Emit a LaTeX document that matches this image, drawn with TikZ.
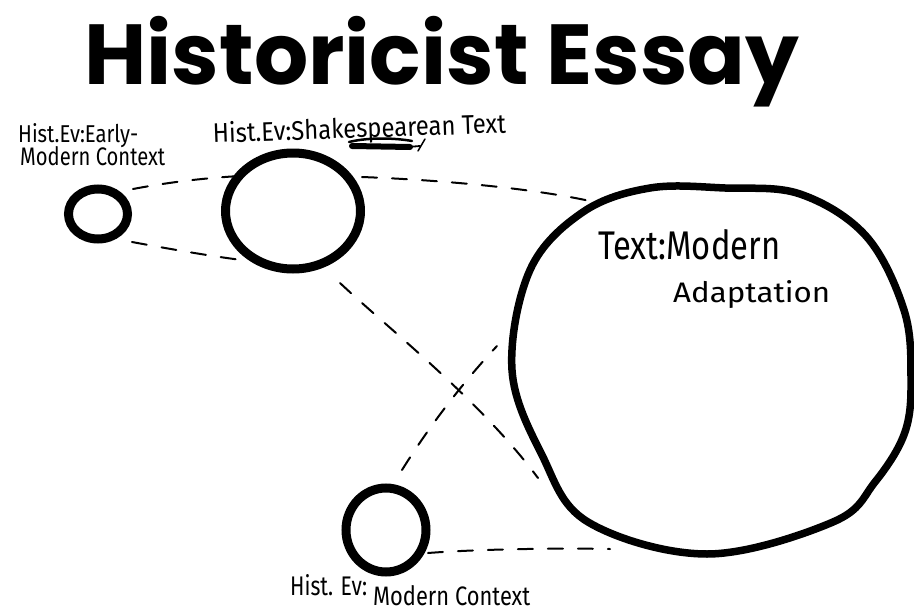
\documentclass[tikz,border=0pt]{standalone}
\usepackage{fontspec}
\setmainfont{Fira Sans}
\newfontfamily\titlefont{Poppins}
\usetikzlibrary{shapes.geometric}
\newcommand{\handtext}[3]{\resizebox{#1}{#2}{#3}}
\newcommand{\nodepth}[1]{\raisebox{0pt}[\height][0pt]{#1}}
\begin{document}
\begin{tikzpicture}[x=1pt,y=-1pt,
  ring/.style={draw=black, line width=9pt, ellipse, inner sep=0pt},
  link/.style={draw=black, line width=2pt, dash pattern=on 15pt off 15pt, line cap=round},
  hand/.style={inner sep=0pt, text=black},
]
\useasboundingbox (0,0) rectangle (914,616);
\fill[white] (0,0) rectangle (914,616);

% title
\node[inner sep=0pt, anchor=base] (title) at (442,84)
  {\nodepth{\resizebox{715pt}{!}{\titlefont\bfseries Historicist Essay}}};

% rings
\node[ring, minimum width=59pt, minimum height=50pt] (c1) at (98,214) {};
\node[ring, minimum width=135pt, minimum height=116pt] (c2) at (293,211) {};
\node[ring, minimum width=80pt, minimum height=84pt] (c4) at (386,530) {};

% big ring
\draw[black, line width=7.5pt] plot[smooth cycle, tension=0.6] coordinates {
  (650,188) (725,188) (800,194) (866,236) (904,310) (911,377) (905,432)
  (875,482) (833,522) (707,554) (588,522) (542,455) (512,370) (530,270) (583,212)};
\coordinate (bigTL) at (590,201);
\coordinate (bigL) at (497,346);
\coordinate (bigLL) at (538,478);
\coordinate (bigB) at (610,549);
\node[hand, anchor=base west] (big) at (598,259)
  {\handtext{182pt}{30pt}{Text:Modern}};
\node[hand, anchor=base west] (big2) at (673,302)
  {\handtext{157pt}{22pt}{Adaptation}};

% labels
\node[hand, anchor=base west] (l1a) at (18,142)
  {\nodepth{\handtext{120pt}{19pt}{Hist.Ev:Early-}}};
\node[hand, anchor=base west] (l1b) at (20,165)
  {\handtext{145pt}{19pt}{Modern Context}};
\node[hand, anchor=base west, rotate=2] (l2) at (213,143)
  {\handtext{293pt}{21pt}{Hist.Ev:Shakespearean Text}};
\node[hand, anchor=base west] (l4a) at (290,595)
  {\handtext{77pt}{21pt}{Hist. Ev:}};
\node[hand, anchor=base west] (l4b) at (373,605)
  {\handtext{157pt}{20pt}{Modern Context}};

% scribbled-out word under the label
\draw[black, line width=6pt, line cap=round] (352,146) -- (410,147);
\draw[black, line width=2.5pt, line cap=round] (349,142) .. controls (370,137) and (395,138) .. (412,141);
\draw[black, line width=1.8pt, line cap=round] (408,147) -- (420,146);
\draw[black, line width=1.5pt, line cap=round] (418,151) -- (425,139);

% connectors
\coordinate (c1a) at (133,189);
\coordinate (c1b) at (132,242);
\coordinate (c2a) at (240,176);
\coordinate (c2b) at (250,261);
\coordinate (c2c) at (362,177);
\coordinate (c2d) at (340,283);
\coordinate (c4a) at (402,470);
\coordinate (c4b) at (428,553);
\draw[link] (c1a) .. controls (170,182) and (205,178) .. (c2a);
\draw[link] (c1b) .. controls (170,249) and (215,257) .. (c2b);
\draw[link] (c2c) .. controls (440,180) and (530,188) .. (bigTL);
\draw[link] (c2d) .. controls (390,330) and (480,400) .. (bigLL);
\draw[link] (c4a) .. controls (430,425) and (465,380) .. (bigL);
\draw[link] (c4b) .. controls (480,549) and (560,548) .. (bigB);
\end{tikzpicture}
\end{document}
